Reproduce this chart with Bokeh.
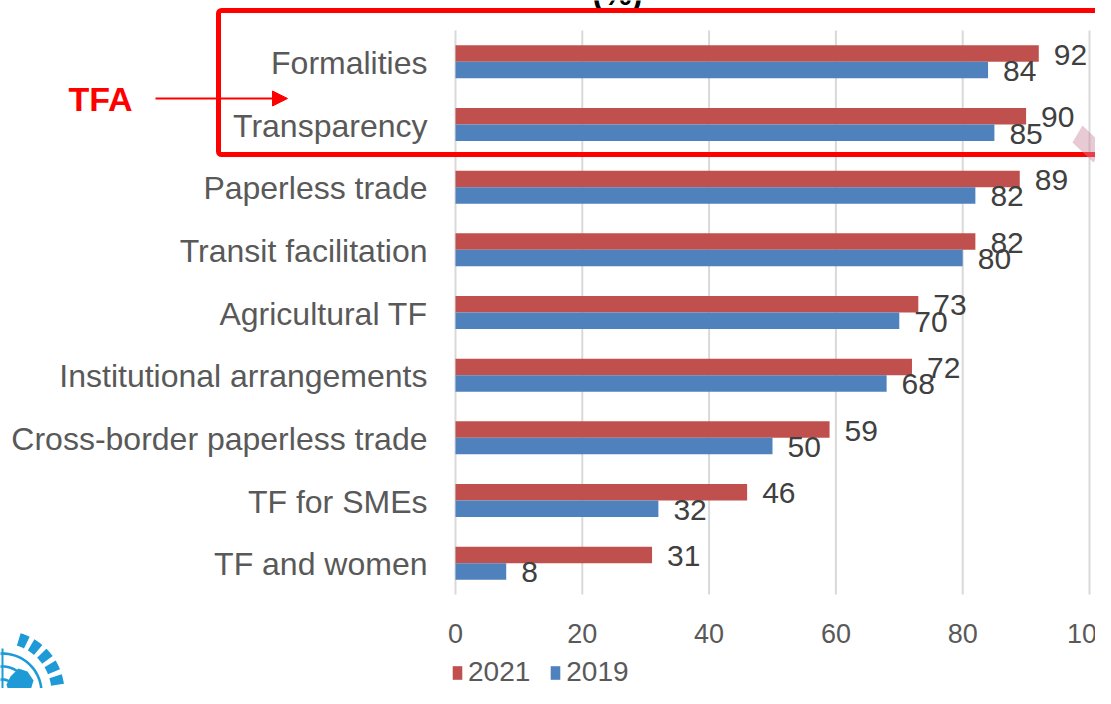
import numpy as np
from bokeh.plotting import figure
from bokeh.models import (Range1d, ColumnDataSource, BoxAnnotation,
                          Arrow, NormalHead, Label, PolyAnnotation)
from bokeh.embed import file_html
from bokeh.resources import INLINE
from bokeh.core.properties import value

# ---------------- data ----------------
categories = ["Formalities", "Transparency", "Paperless trade", "Transit facilitation",
              "Agricultural TF", "Institutional arrangements",
              "Cross-border paperless trade", "TF for SMEs", "TF and women"]
values_2021 = [92, 90, 89, 82, 73, 72, 59, 46, 31]
values_2019 = [84, 85, 82, 80, 70, 68, 50, 32, 8]
x_ticks = [0, 20, 40, 60, 80, 100]
x_tick_labels = ["0", "20", "40", "60", "80", "100"]
series_names = ["2021", "2019"]
series_colors = ["#C0504D", "#4F81BD"]

# ---------------- geometry (pixels) ----------------
W, H = 1095, 688
PX0 = 455          # pixel x of value 0
PXU = 6.34         # pixels per unit
AREA_TOP, AREA_BOTTOM = 30, 594
n = len(categories)
PYU = (AREA_BOTTOM - AREA_TOP) / n


def dx(px):
    return (px - PX0) / PXU


def dy(py):
    return (AREA_BOTTOM - py) / PYU - 0.5


p = figure(width=W, height=H, output_backend="svg", toolbar_location=None,
           x_range=Range1d(dx(0), dx(W)), y_range=Range1d(dy(H), dy(0)),
           x_axis_location=None, y_axis_location=None,
           min_border=0, min_border_left=0, min_border_right=0,
           min_border_top=0, min_border_bottom=0)
p.outline_line_color = None
p.background_fill_color = "white"
p.border_fill_color = "white"
for g in p.grid:
    g.visible = False

centers = [n - 1 - i for i in range(n)]
bh = 16.5 / PYU

# vertical gridlines
gsrc = ColumnDataSource(dict(x=x_ticks, t=x_tick_labels))
p.segment(x0="x", x1="x", y0=-0.5, y1=n - 0.5, source=gsrc,
          line_color="#D9D9D9", line_width=2)
# x tick labels
p.text(x="x", y=-0.5, text="t", source=gsrc, y_offset=39,
       text_align="center", text_baseline="middle",
       text_font=value("Liberation Sans"), text_font_size="27px",
       text_color="#595959")

src = ColumnDataSource(dict(
    cat=categories, yc=centers,
    y21=[c + bh / 2 for c in centers],
    y19=[c - bh / 2 for c in centers],
    v21=values_2021, v19=values_2019,
    t21=[str(v) for v in values_2021], t19=[str(v) for v in values_2019],
))

# category labels
p.text(x=0, y="yc", text="cat", source=src, x_offset=-28, y_offset=1,
       text_align="right", text_baseline="middle",
       text_font=value("Liberation Sans"), text_font_size="32px",
       text_color="#595959")

p.hbar(y="y21", left=0, right="v21", height=bh, color=series_colors[0],
       line_color=None, source=src, legend_label=series_names[0])
p.hbar(y="y19", left=0, right="v19", height=bh, color=series_colors[1],
       line_color=None, source=src, legend_label=series_names[1])

for ycol, tcol, vcol in (("y21", "t21", "v21"), ("y19", "t19", "v19")):
    p.text(x=vcol, y=ycol, text=tcol, source=src, x_offset=15, y_offset=1,
           text_baseline="middle", text_align="left",
           text_font=value("Liberation Sans"), text_font_size="30px",
           text_color="#404040")

# legend
lg = p.legend[0]
lg.orientation = "horizontal"
lg.location = (451, 0)
lg.glyph_width = 12
lg.glyph_height = 17
lg.label_standoff = 5
lg.spacing = 19
lg.padding = 0
lg.margin = 0
lg.border_line_color = None
lg.background_fill_alpha = 0
lg.label_text_font = "Liberation Sans"
lg.label_text_font_size = "28px"
lg.label_text_color = "#595959"

# ---------------- title remnant ----------------
p.add_layout(Label(x=dx(617), y=dy(-7), text="(%)", text_align="center",
                   text_baseline="middle", text_font="Liberation Sans",
                   text_font_style="bold", text_font_size="32px", text_color="#000000"))

# ---------------- TFA annotation ----------------
p.add_layout(BoxAnnotation(left=dx(218), right=dx(1300), top=dy(10), bottom=dy(154),
                           fill_alpha=0, line_color="#FF0000", line_alpha=1,
                           line_width=5, border_radius=3))
p.add_layout(Arrow(x_start=dx(155), y_start=dy(98), x_end=dx(287), y_end=dy(98),
                   line_color="#FF0000", line_width=2,
                   end=NormalHead(size=15, fill_color="#FF0000", line_color="#FF0000")))
p.add_layout(Label(x=dx(100), y=dy(98), text="TFA", text_align="center",
                   text_baseline="middle", text_font="Liberation Sans",
                   text_font_style="bold", text_font_size="34px", text_color="#FF0000"))

# decorative shape at the right edge
p.add_layout(PolyAnnotation(xs=[dx(1072), dx(1082), dx(1103), dx(1093)],
                            ys=[dy(142), dy(125), dy(145), dy(162)],
                            fill_color="#C98A9E", fill_alpha=0.45, line_color=None))

# ---------------- UN emblem (decoration) ----------------
UNB = "#1E9BD7"
cx, cy = 2, 692


def ring(r0, r1, a0=0.0, a1=2 * np.pi, m=72):
    t = np.linspace(a0, a1, m)
    xo = cx + r1 * np.cos(t); yo = cy - r1 * np.sin(t)
    xi = cx + r0 * np.cos(t[::-1]); yi = cy - r0 * np.sin(t[::-1])
    xs = np.concatenate([xo, xi]); ys = np.concatenate([yo, yi])
    return [dx(v) for v in xs], [dy(v) for v in ys]


for r in (13, 26, 39):
    xs, ys = ring(r - 1.3, r + 1.3)
    p.add_layout(PolyAnnotation(xs=xs, ys=ys, fill_color=UNB, fill_alpha=1, line_color=None))
for (x0, y0, x1, y1) in ((cx - 1, cy - 44, cx + 1, cy + 10), (cx - 2, cy - 1, cx + 44, cy + 1)):
    p.add_layout(PolyAnnotation(xs=[dx(x0), dx(x1), dx(x1), dx(x0)],
                                ys=[dy(y0), dy(y0), dy(y1), dy(y1)],
                                fill_color=UNB, fill_alpha=1, line_color=None))
blob_x = [10, 18, 27, 33, 30, 24, 16, 9, 6]
blob_y = [676, 668, 671, 680, 690, 697, 699, 694, 684]
p.add_layout(PolyAnnotation(xs=[dx(v) for v in blob_x], ys=[dy(v) for v in blob_y],
                            fill_color=UNB, fill_alpha=1, line_color=None))
for k in range(7):
    a0 = np.deg2rad(-20 + 14 * k)
    xs, ys = ring(49, 62, a0, a0 + np.deg2rad(9), m=12)
    p.add_layout(PolyAnnotation(xs=xs, ys=ys, fill_color=UNB, fill_alpha=1, line_color=None))

open("out.html", "w").write(file_html(p, INLINE))
